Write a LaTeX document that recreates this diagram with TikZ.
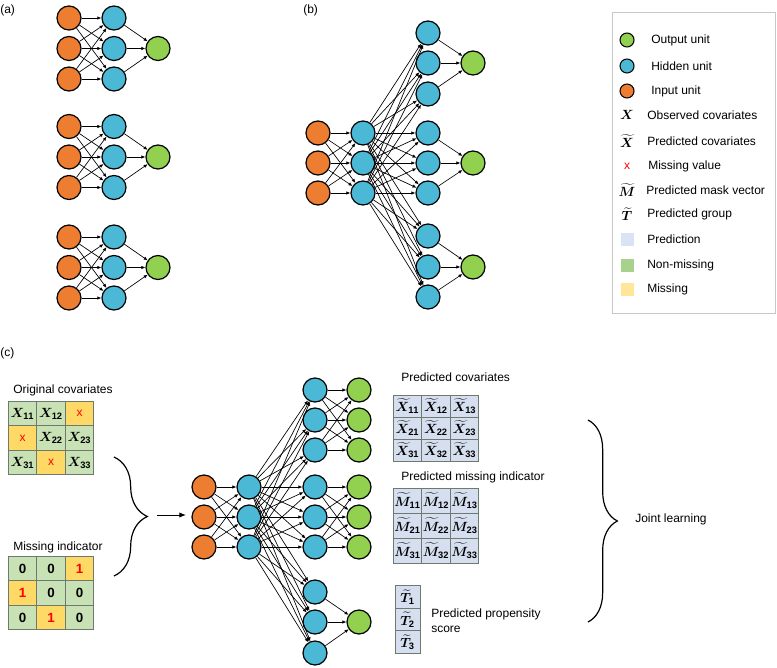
\documentclass[tikz,border=0pt]{standalone}
\usepackage{amsmath,bm}
\usepackage{fontspec}
\setmainfont{Liberation Sans}
\usetikzlibrary{arrows.meta,decorations.pathreplacing}

\definecolor{inorange}{HTML}{ED7D31}
\definecolor{hidblue}{HTML}{4BB9D6}
\definecolor{outgreen}{HTML}{92D050}
\definecolor{cellgreen}{HTML}{C8E2B6}
\definecolor{cellyellow}{HTML}{FFD966}
\definecolor{cellblue}{HTML}{D6DFF0}
\definecolor{cellline}{HTML}{6F7A6F}
\definecolor{keyblue}{HTML}{DAE3F3}
\definecolor{keygreen}{HTML}{A9D18E}
\definecolor{keyyellow}{HTML}{FFE699}
\definecolor{boxgray}{HTML}{C8C8C8}

\newcommand{\missx}{\textcolor{red}{\fontsize{9}{10}\selectfont x}}
\newcommand{\missone}{\textcolor{red}{$\mathbf{1}$}}

\tikzset{
  unit/.style={circle, draw, line width=0.9pt, minimum size=18pt, inner sep=0pt},
  inunit/.style={unit, fill=inorange},
  hidunit/.style={unit, fill=hidblue},
  outunit/.style={unit, fill=outgreen},
  link/.style={-{Latex[length=3pt,width=2.6pt]}, line width=0.5pt},
  lbl/.style={inner sep=0pt, anchor=west},
  cell/.style={draw=cellline, line width=0.6pt, minimum width=21.4pt, minimum height=18.5pt, inner sep=0pt, font=\fontsize{10}{12}\selectfont},
  gcell/.style={cell, fill=cellgreen},
  ycell/.style={cell, fill=cellyellow},
  pcell/.style={cell, fill=cellblue},
  keysq/.style={minimum size=9.75pt, inner sep=0pt},
}

\begin{document}
\begin{tikzpicture}[x=0.75pt, y=-0.75pt, font=\fontsize{9}{11}\selectfont]
\useasboundingbox (0,0) rectangle (777,667);

% (a) three separate networks
\node[lbl] (labela) at (0,10) {(a)};
\foreach \g/\y in {1/18,2/126.5,3/237}{
  \foreach \k in {1,2,3}{
    \node[inunit] (a\g i\k) at (69,{\y+30.5*\k-30.5}) {};
    \node[hidunit] (a\g h\k) at (114,{\y+30.5*\k-30.5}) {};
  }
  \node[outunit] (a\g o) at (158,{\y+30.5}) {};
  \foreach \k in {1,2,3}{
    \foreach \m in {1,2,3} \draw[link] (a\g i\k) -- (a\g h\m);
    \draw[link] (a\g h\k) -- (a\g o);
  }
}

% (b) shared layer, three heads
\node[lbl] (labelb) at (303,10) {(b)};
\foreach \k/\y in {1/133,2/163,3/193}{
  \node[inunit] (bi\k) at (318,\y) {};
  \node[hidunit] (bh\k) at (363,\y) {};
}
\foreach \k/\y in {1/33,2/63,3/94,4/133,5/163,6/193,7/236,8/267,9/297}
  \node[hidunit] (bg\k) at (428,\y) {};
\foreach \k/\y in {1/63,2/163,3/267}
  \node[outunit] (bo\k) at (473,\y) {};
\foreach \k in {1,2,3}{
  \foreach \m in {1,2,3} \draw[link] (bi\k) -- (bh\m);
  \foreach \m in {1,...,9} \draw[link] (bh\k) -- (bg\m);
}
\foreach \m/\o in {1/1,2/1,3/1,4/2,5/2,6/2,7/3,8/3,9/3}
  \draw[link] (bg\m) -- (bo\o);

% legend
\draw[boxgray, line width=0.6pt] (612,12) rectangle (775,313);
\node[outunit, minimum size=10.5pt, line width=0.8pt] (keyout) at (627,40) {};
\node[lbl] (keyouttxt) at (651,40) {Output unit};
\node[hidunit, minimum size=10.5pt, line width=0.8pt] (keyhid) at (627,66) {};
\node[lbl] (keyhidtxt) at (651,66) {Hidden unit};
\node[inunit, minimum size=10.5pt, line width=0.8pt] (keyin) at (627,91) {};
\node[lbl] (keyintxt) at (651,91) {Input unit};
\node[font=\fontsize{10}{12}\selectfont] (keyx) at (627,115) {$\bm{X}$};
\node[lbl] (keyxtxt) at (647,115) {Observed covariates};
\node[font=\fontsize{10}{12}\selectfont] (keypx) at (627,141) {$\widetilde{\bm{X}}$};
\node[lbl] (keypxtxt) at (647,141) {Predicted covariates};
\node (keymiss) at (627,166) {\missx};
\node[lbl] (keymisstxt) at (648,166) {Missing value};
\node[font=\fontsize{10}{12}\selectfont] (keypm) at (627,190) {$\widetilde{\bm{M}}$};
\node[lbl] (keypmtxt) at (646,190) {Predicted mask vector};
\node[font=\fontsize{10}{12}\selectfont] (keypt) at (627,214) {$\widetilde{\bm{T}}$};
\node[lbl] (keypttxt) at (647,214) {Predicted group};
\node[keysq, fill=keyblue] (keyp) at (627,239) {};
\node[lbl] (keyptxt) at (647,239) {Prediction};
\node[keysq, fill=keygreen] (keyn) at (627,265) {};
\node[lbl] (keyntxt) at (647,265) {Non-missing};
\node[keysq, fill=keyyellow] (keym) at (627,289) {};
\node[lbl] (keymtxt) at (647,289) {Missing};

% (c) joint model
\node[lbl] (labelc) at (0,353) {(c)};

\node[lbl] (origtxt) at (13,390) {Original covariates};
\node[gcell] (x11) at (22.5,413.5) {$\bm{X}_{\mathbf{11}}$};
\node[gcell] (x12) at (51,413.5) {$\bm{X}_{\mathbf{12}}$};
\node[ycell] (x13) at (79.5,413.5) {\missx};
\node[ycell] (x21) at (22.5,438) {\missx};
\node[gcell] (x22) at (51,438) {$\bm{X}_{\mathbf{22}}$};
\node[gcell] (x23) at (79.5,438) {$\bm{X}_{\mathbf{23}}$};
\node[gcell] (x31) at (22.5,462.5) {$\bm{X}_{\mathbf{31}}$};
\node[ycell] (x32) at (51,462.5) {\missx};
\node[gcell] (x33) at (79.5,462.5) {$\bm{X}_{\mathbf{33}}$};

\node[lbl] (indtxt) at (13,547) {Missing indicator};
\node[gcell] (m11) at (22.5,568.5) {$\mathbf{0}$};
\node[gcell] (m12) at (51,568.5) {$\mathbf{0}$};
\node[ycell] (m13) at (79.5,568.5) {\missone};
\node[ycell] (m21) at (22.5,593) {\missone};
\node[gcell] (m22) at (51,593) {$\mathbf{0}$};
\node[gcell] (m23) at (79.5,593) {$\mathbf{0}$};
\node[gcell] (m31) at (22.5,617.5) {$\mathbf{0}$};
\node[ycell] (m32) at (51,617.5) {\missone};
\node[gcell] (m33) at (79.5,617.5) {$\mathbf{0}$};

\draw[line width=0.9pt, decorate, decoration={brace, amplitude=25pt}] (114,457) -- (114,576);
\coordinate (bracetip) at (157,515);
\coordinate (netin) at (186,515);
\draw[-{Latex[length=5pt,width=4pt]}, line width=0.7pt] (bracetip) -- (netin);

\foreach \k/\y in {1/487,2/517,3/547}{
  \node[inunit] (ci\k) at (204,\y) {};
  \node[hidunit] (ch\k) at (249,\y) {};
}
\foreach \k/\y in {1/390,2/420,3/450,4/487,5/517,6/547,7/592,8/622,9/653}
  \node[hidunit] (cg\k) at (315,\y) {};
\foreach \k/\y in {1/390,2/420,3/450,4/487,5/517,6/547,7/622}
  \node[outunit] (co\k) at (359,\y) {};
\foreach \k in {1,2,3}{
  \foreach \m in {1,2,3} \draw[link] (ci\k) -- (ch\m);
  \foreach \m in {1,...,9} \draw[link] (ch\k) -- (cg\m);
}
\foreach \k in {1,2,3}{
  \foreach \m in {1,2,3}{
    \draw[link] (cg\k) -- (co\m);
    \pgfmathtruncatemacro{\kk}{\k+3}
    \pgfmathtruncatemacro{\mm}{\m+3}
    \draw[link] (cg\kk) -- (co\mm);
  }
}
\foreach \k in {7,8,9} \draw[link] (cg\k) -- (co7);

\node[lbl] (predxtxt) at (401,377) {Predicted covariates};
\foreach \r/\y in {1/406,2/428,3/450}
  \foreach \c/\x in {1/407.5,2/436,3/464.5}
    \node[pcell, minimum height=16.5pt] (px\r\c) at (\x,\y) {$\widetilde{\bm{X}}_{\mathbf{\r\c}}$};

\node[lbl] (predmtxt) at (401,477) {Predicted missing indicator};
\foreach \r/\y in {1/500.5,2/525.5,3/550.5}
  \foreach \c/\x in {1/407.5,2/436,3/464.5}
    \node[pcell, minimum height=18.75pt] (pm\r\c) at (\x,\y) {$\widetilde{\bm{M}}_{\mathbf{\r\c}}$};

\foreach \r/\y in {1/597,2/619.5,3/642}
  \node[pcell, minimum width=18.75pt, minimum height=16.75pt] (pt\r) at (407.5,\y) {$\widetilde{\bm{T}}_{\mathbf{\r}}$};
\node[lbl, align=left] (predttxt) at (431,621) {Predicted propensity\\score};

\draw[line width=0.9pt, decorate, decoration={brace, amplitude=22pt}] (588,420) -- (588,622);
\node[lbl] (jointtxt) at (635,519) {Joint learning};
\end{tikzpicture}
\end{document}
